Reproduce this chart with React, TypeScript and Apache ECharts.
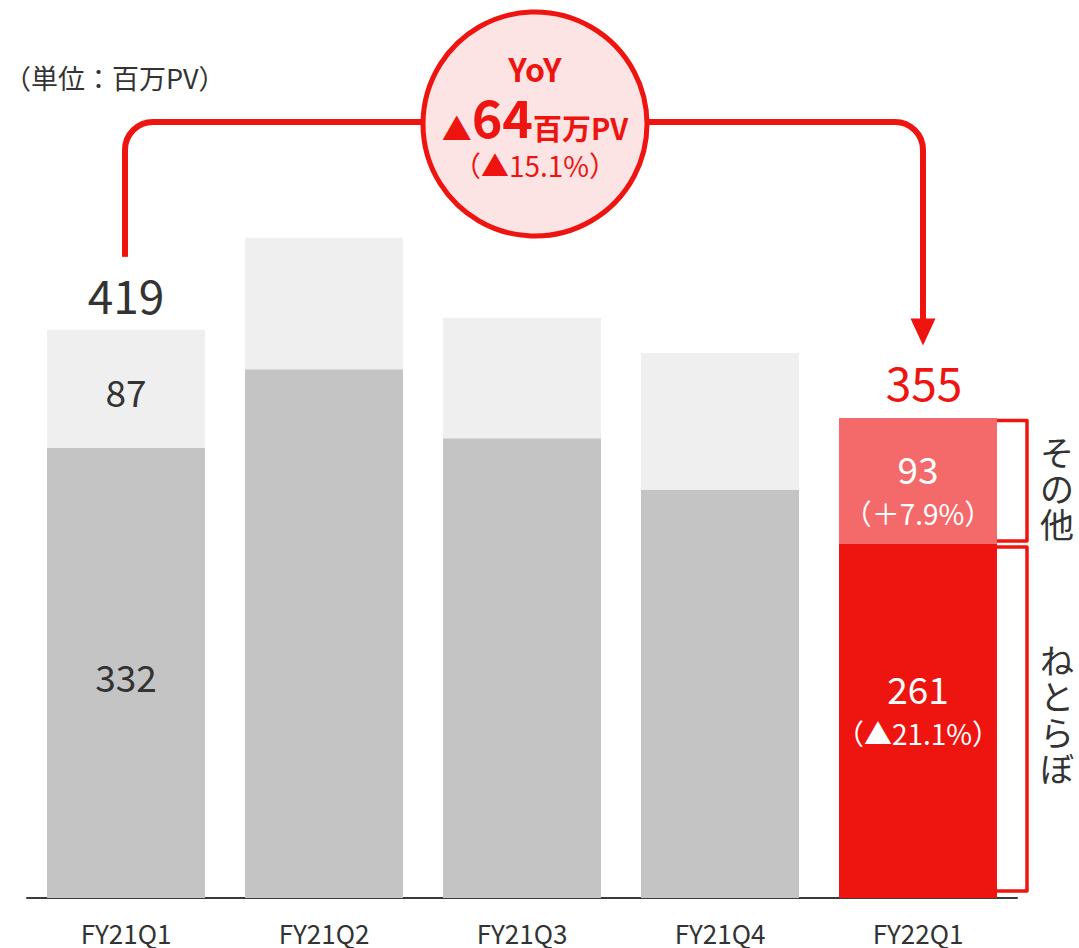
import React, { useEffect, useRef } from 'react';
import * as echarts from 'echarts';

const categories = ['FY21Q1', 'FY21Q2', 'FY21Q3', 'FY21Q4', 'FY22Q1'];
const nettoraboValues = [332, 390, 339, 301, 261];
const otherValues = [87, 97, 89, 101, 93];
const totalValues = [419, 487, 428, 402, 355];
const showValueLabels = [true, false, false, false, true];
const nettoraboChange = ['', '', '', '', '（▲21.1%）'];
const otherChange = ['', '', '', '', '（＋7.9%）'];
const seriesNames = ['ねとらぼ', 'その他'];
const unitText = '（単位：百万PV）';
const yoyTitle = 'YoY';
const yoyDiff = '64';
const yoyUnit = '百万PV';
const yoyRate = '（▲15.1%）';

const RED = '#EE1410';
const SALMON = '#F46A6A';
const GRAY = '#C4C4C4';
const LIGHT = '#EFEFEF';
const PINK = '#FCE4E4';
const DARK = '#333333';
const FONT = '"Noto Sans CJK JP", "Noto Sans", sans-serif';
const HIGHLIGHT = 4;
const BAR_W = 158;

function segLabel(v: number, change: string, i: number, offset: number[]) {
  const light = i === HIGHLIGHT;
  return {
    show: showValueLabels[i],
    position: 'inside',
    offset,
    formatter: change ? `{v|${v}}\n{p|${change}}` : `{v|${v}}`,
    rich: {
      v: { fontSize: 37, lineHeight: 45, color: light ? '#fff' : DARK, fontFamily: FONT },
      p: { fontSize: 28, lineHeight: 45, color: '#fff', fontFamily: FONT },
    },
  };
}

export default function App() {
  const ref = useRef<HTMLDivElement>(null);

  useEffect(() => {
    if (!ref.current) return;
    const chart = echarts.init(ref.current, undefined, { renderer: 'svg' });

    const option: any = {
      animation: false,
      backgroundColor: '#ffffff',
      textStyle: { fontFamily: FONT },
      grid: { left: 27, right: 62, top: 220, bottom: 50 },
      xAxis: {
        type: 'category',
        data: categories,
        axisTick: { show: false },
        axisLine: { lineStyle: { color: '#3a3a3a', width: 2 } },
        axisLabel: { fontSize: 26, lineHeight: 28, color: DARK, margin: 20, fontFamily: FONT },
      },
      yAxis: { type: 'value', min: 0, max: 500, show: false, splitLine: { show: false } },
      series: [
        {
          type: 'bar',
          name: seriesNames[0],
          stack: 'total',
          barWidth: BAR_W,
          data: nettoraboValues.map((v, i) => ({
            value: v,
            itemStyle: { color: i === HIGHLIGHT ? RED : GRAY },
            label: segLabel(v, nettoraboChange[i], i, i === HIGHLIGHT ? [0, -11] : [0, 3]),
          })),
        },
        {
          type: 'bar',
          name: seriesNames[1],
          stack: 'total',
          barWidth: BAR_W,
          data: otherValues.map((v, i) => ({
            value: v,
            itemStyle: { color: i === HIGHLIGHT ? SALMON : LIGHT },
            label: segLabel(v, otherChange[i], i, i === HIGHLIGHT ? [0, 9] : [0, 2]),
          })),
        },
        {
          type: 'scatter',
          name: 'total',
          symbolSize: 1,
          silent: true,
          itemStyle: { color: '#ffffff', opacity: 1 },
          data: totalValues.map((v, i) => ({
            value: v,
            label: {
              show: showValueLabels[i],
              color: i === HIGHLIGHT ? RED : DARK,
              offset: i === HIGHLIGHT ? [6, 0] : [0, 0],
            },
          })),
          label: { position: 'top', distance: 12, fontSize: 46, fontFamily: FONT, formatter: '{c}', opacity: 1 },
        },
      ],
    };
    chart.setOption(option);

    const p = (i: number, v: number) => chart.convertToPixel({ gridIndex: 0 } as any, [i, v]) as number[];
    const [x0, top0] = p(0, totalValues[0]);
    const [x4, top4] = p(HIGHLIGHT, totalValues[HIGHLIGHT]);
    const [, mid4] = p(HIGHLIGHT, nettoraboValues[HIGHLIGHT]);
    const [, base] = p(HIGHLIGHT, 0);
    const barRight = x4 + BAR_W / 2;

    const cx = 535;
    const cy = 124;
    const cr = 112;
    const lineY = 122;
    const rad = 28;
    const lx = x0 - 1;
    const rx = x4 + 5;
    const tipY = top4 - 71;
    const lw = 6;
    const lineStyle = { stroke: RED, lineWidth: lw, fill: null };

    const bx = barRight + 30;
    const bTop1 = top4 + 4;
    const bBot1 = mid4 - 3;
    const bTop2 = mid4 + 3;
    const bBot2 = base - 7;
    const bracket = (t: number, b: number) => ({
      type: 'polyline',
      shape: { points: [[barRight, t], [bx, t], [bx, b], [barRight, b]] },
      style: { stroke: RED, lineWidth: 3.5, fill: null, lineJoin: 'round' },
    });

    const verticalText = (name: string, centerY: number, pitch: number) => {
      const chars = name.split('');
      const start = centerY - ((chars.length - 1) * pitch) / 2;
      return chars.map((ch, k) => ({
        type: 'text',
        style: {
          text: ch,
          x: bx + 30,
          y: start + k * pitch,
          font: `34px ${FONT}`,
          lineHeight: pitch,
          fill: DARK,
          align: 'center',
          verticalAlign: 'middle',
        },
      }));
    };

    chart.setOption({
      graphic: [
        {
          type: 'text',
          style: { text: unitText, x: 4, y: 77, font: `27px ${FONT}`, fill: DARK, align: 'left', verticalAlign: 'middle' },
        },
        { type: 'line', shape: { x1: lx, y1: top0 - 73, x2: lx, y2: lineY + rad }, style: lineStyle },
        {
          type: 'arc',
          shape: { cx: lx + rad, cy: lineY + rad, r: rad, startAngle: Math.PI, endAngle: Math.PI * 1.5, clockwise: true },
          style: lineStyle,
        },
        { type: 'line', shape: { x1: lx + rad, y1: lineY, x2: cx, y2: lineY }, style: lineStyle },
        { type: 'line', shape: { x1: cx, y1: lineY, x2: rx - rad, y2: lineY }, style: lineStyle },
        {
          type: 'arc',
          shape: { cx: rx - rad, cy: lineY + rad, r: rad, startAngle: Math.PI * 1.5, endAngle: Math.PI * 2, clockwise: true },
          style: lineStyle,
        },
        { type: 'line', shape: { x1: rx, y1: lineY + rad, x2: rx, y2: tipY - 22 }, style: lineStyle },
        {
          type: 'polygon',
          shape: { points: [[rx - 12.5, tipY - 27], [rx + 12.5, tipY - 27], [rx, tipY]] },
          style: { fill: RED },
        },
        {
          type: 'circle',
          shape: { cx, cy, r: cr },
          style: { fill: PINK, stroke: RED, lineWidth: 5 },
          z: 10,
        },
        {
          type: 'text',
          z: 11,
          style: { text: yoyTitle, x: cx, y: 68, font: `bold 32px ${FONT}`, fill: RED, align: 'center', verticalAlign: 'middle' },
        },
        {
          type: 'text',
          z: 11,
          style: {
            text: `{a|▲}{b|${yoyDiff}}{c|${yoyUnit}}`,
            x: cx,
            y: 116,
            align: 'center',
            verticalAlign: 'middle',
            rich: {
              a: { fontSize: 30, lineHeight: 30, fill: RED, fontFamily: FONT, verticalAlign: 'bottom' },
              b: { fontSize: 52, lineHeight: 52, fill: RED, fontWeight: 'bold', fontFamily: FONT, verticalAlign: 'bottom' },
              c: { fontSize: 29, lineHeight: 30, fill: RED, fontWeight: 'bold', fontFamily: FONT, verticalAlign: 'bottom' },
            },
          },
        },
        {
          type: 'text',
          z: 11,
          style: { text: yoyRate, x: cx, y: 165, font: `28px ${FONT}`, fill: RED, align: 'center', verticalAlign: 'middle' },
        },
        bracket(bTop1, bBot1),
        bracket(bTop2, bBot2),
        ...verticalText(seriesNames[1], (bTop1 + bBot1) / 2 + 7, 36),
        ...verticalText(seriesNames[0], (bTop2 + bBot2) / 2 - 6, 36),
      ],
    });

    return () => chart.dispose();
  }, []);

  return (
    <div
      ref={ref}
      style={{ position: 'fixed', left: 0, top: 0, width: 1079, height: 948, background: '#fff' }}
    />
  );
}
